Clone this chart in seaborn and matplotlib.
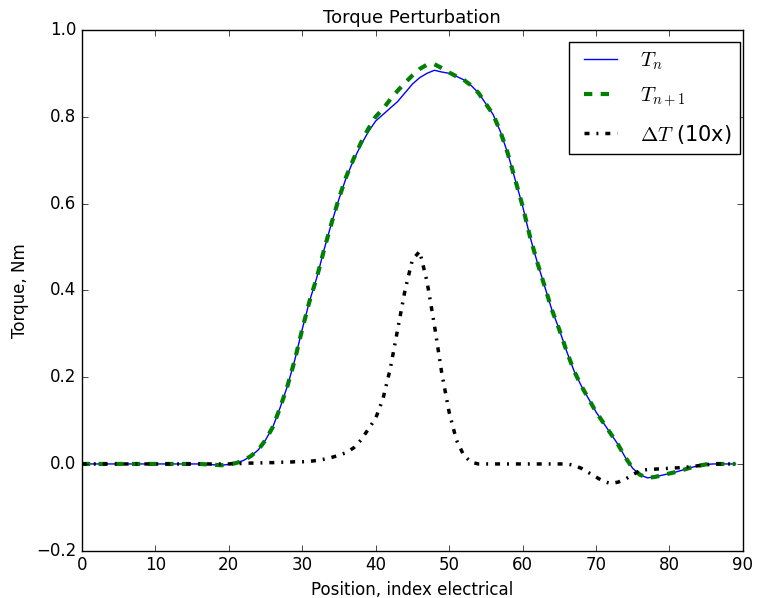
import matplotlib
matplotlib.use("Agg")
import matplotlib.pyplot as plt
import seaborn as sns
import numpy as np

position = list(range(90))

torque_n = [0.0]*17 + [-0.001, -0.002, -0.003, -0.001, 0.002, 0.008, 0.018, 0.032,
    0.055, 0.085, 0.13, 0.18, 0.24, 0.31, 0.375, 0.43, 0.495, 0.555, 0.61, 0.66,
    0.70, 0.735, 0.765, 0.79, 0.805, 0.82, 0.835, 0.855, 0.875, 0.89, 0.90, 0.907,
    0.903, 0.90, 0.893, 0.885, 0.872, 0.855, 0.83, 0.805, 0.765, 0.715, 0.655,
    0.595, 0.525, 0.465, 0.41, 0.355, 0.31, 0.26, 0.215, 0.18, 0.15, 0.12, 0.095,
    0.07, 0.045, 0.015, -0.01, -0.025, -0.032, -0.03, -0.026, -0.022, -0.018,
    -0.013, -0.008, -0.004, -0.001, 0.0, 0.0, 0.0, 0.0]

torque_n1 = [0.0]*17 + [-0.001, -0.002, -0.003, -0.001, 0.002, 0.008, 0.018, 0.032,
    0.055, 0.085, 0.13, 0.18, 0.24, 0.31, 0.375, 0.43, 0.495, 0.555, 0.612, 0.662,
    0.703, 0.74, 0.772, 0.80, 0.818, 0.84, 0.86, 0.878, 0.895, 0.91, 0.92, 0.921,
    0.912, 0.902, 0.893, 0.885, 0.872, 0.855, 0.83, 0.805, 0.765, 0.715, 0.655,
    0.595, 0.525, 0.465, 0.41, 0.355, 0.31, 0.26, 0.215, 0.18, 0.15, 0.12, 0.095,
    0.07, 0.045, 0.015, -0.01, -0.025, -0.032, -0.03, -0.026, -0.022, -0.018,
    -0.013, -0.008, -0.004, -0.001, 0.0, 0.0, 0.0, 0.0]

delta_t10 = [0.0]*21 + [0.001, 0.001, 0.002, 0.002, 0.003, 0.003, 0.004, 0.004,
    0.005, 0.005, 0.006, 0.008, 0.011, 0.015, 0.02, 0.026, 0.037, 0.055, 0.08,
    0.105, 0.15, 0.22, 0.31, 0.40, 0.47, 0.49, 0.42, 0.32, 0.21, 0.12, 0.055,
    0.02, 0.004, 0.0, 0.0, 0.0, 0.0, 0.0, 0.0, 0.0, 0.0, 0.0, 0.0, 0.0, 0.0, 0.0,
    -0.003, -0.01, -0.02, -0.03, -0.04, -0.045, -0.042, -0.035, -0.025, -0.015,
    -0.013, -0.012, -0.011, -0.01, -0.009, -0.008, -0.006, -0.004, -0.002,
    0.0, 0.0, 0.0, 0.0]

sns.set_style("ticks")
plt.style.use("classic")
plt.rcParams['font.family'] = ['DejaVu Sans']

fig = plt.figure(figsize=(7.58, 5.98), dpi=100)
fig.patch.set_facecolor('white')
ax = fig.add_axes([0.108, 0.079, 0.872, 0.871])

sns.lineplot(x=position, y=torque_n, ax=ax, color='blue', lw=1.0, label=r'$T_n$')
sns.lineplot(x=position, y=torque_n1, ax=ax, color='green', lw=3.0,
             linestyle='--', label=r'$T_{n+1}$')
sns.lineplot(x=position, y=delta_t10, ax=ax, color='black', lw=2.5,
             label=r'$\Delta T$ (10x)')
ax.lines[-1].set_dashes((3.6, 5.0, 1.4, 5.0))

ax.set_xlim(0, 90)
ax.set_ylim(-0.2, 1.0)
ax.set_xticks(range(0, 91, 10))
ax.set_yticks(np.arange(-0.2, 1.01, 0.2))
ax.set_title('Torque Perturbation', fontsize=13)
ax.set_xlabel('Position, index electrical', fontsize=12)
ax.set_ylabel('Torque, Nm', fontsize=12)
ax.tick_params(labelsize=12)
leg = ax.legend(loc='upper right', bbox_to_anchor=(0.9955, 0.977), borderaxespad=0,
                fontsize=15, labelspacing=0.65, handlelength=2.2, handletextpad=0.8)

fig.savefig('out.png', dpi=100, facecolor='white')
